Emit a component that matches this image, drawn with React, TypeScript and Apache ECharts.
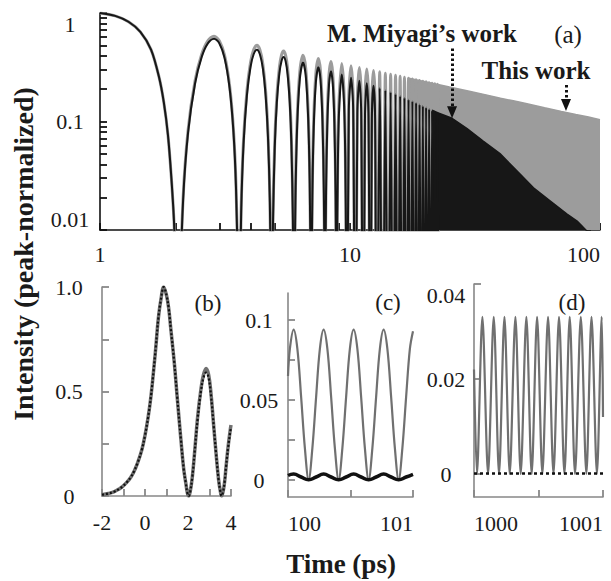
import React, { useEffect, useRef } from 'react';
import * as echarts from 'echarts';

const FONT = 'Liberation Serif, serif';

// ---------- Panel (a): log-log overview ----------
const A_X_RANGE = [1, 100];
const A_Y_RANGE = [0.01, 1];
const A_X_TICKS = [1, 2, 3, 4, 5, 6, 7, 8, 9, 10, 20, 30, 40, 50, 60, 70, 80, 90, 100];
const A_X_LABELS = [1, 10, 100];
const A_Y_TICKS = [0.01, 0.02, 0.03, 0.04, 0.05, 0.06, 0.07, 0.08, 0.09, 0.1, 0.2, 0.3, 0.4, 0.5, 0.6, 0.7, 0.8, 0.9, 1];
const A_Y_LABELS = [0.01, 0.1, 1];

// "This work" individual lobes [time ps, intensity]
const A_GRAY_LOBES: [number, number][] = [
  [1.0, 1.0], [1.15, 0.94], [1.3, 0.83], [1.45, 0.67], [1.6, 0.46], [1.72, 0.26], [1.8, 0.15], [1.87, 0.075], [1.93, 0.03], [1.98, 0.011], [2.03, 0.0015], [2.058, 0.0001],
  [2.09, 0.0024], [2.15, 0.0198], [2.25, 0.083], [2.4, 0.237], [2.55, 0.414], [2.7, 0.554], [2.858, 0.612], [3.0, 0.556], [3.15, 0.407], [3.3, 0.213], [3.42, 0.083], [3.5, 0.0256], [3.56, 0.0038], [3.597, 0.0001],
  [3.62, 0.0016], [3.67, 0.0158], [3.75, 0.0669], [3.87, 0.192], [4.0, 0.349], [4.12, 0.46], [4.242, 0.504], [4.36, 0.458], [4.48, 0.34], [4.6, 0.188], [4.7, 0.077], [4.78, 0.0197], [4.83, 0.0026], [4.858, 0.0001],
  [4.88, 0.0017], [4.92, 0.0131], [5.0, 0.0654], [5.1, 0.173], [5.22, 0.318], [5.32, 0.409], [5.424, 0.446], [5.53, 0.405], [5.63, 0.307], [5.74, 0.17], [5.83, 0.0695], [5.91, 0.014], [5.95, 0.0017], [5.972, 0.0001],
  [6.0, 0.003], [6.05, 0.0226], [6.15, 0.109], [6.3, 0.289], [6.487, 0.408], [6.65, 0.311], [6.8, 0.128], [6.9, 0.0319], [6.96, 0.0038], [6.991, 0.0001],
  [7.02, 0.0034], [7.07, 0.0249], [7.16, 0.1055], [7.3, 0.273], [7.47, 0.38], [7.62, 0.292], [7.76, 0.122], [7.86, 0.0265], [7.91, 0.0038], [7.94, 0.0001],
  [7.97, 0.0039], [8.02, 0.0271], [8.11, 0.111], [8.24, 0.267], [8.391, 0.358], [8.53, 0.278], [8.66, 0.121], [8.76, 0.0246], [8.81, 0.0028], [8.835, 0.0001],
  [8.87, 0.0056], [8.93, 0.0398], [9.03, 0.146], [9.264, 0.342], [9.45, 0.203], [9.57, 0.0605], [9.65, 0.0064], [9.687, 0.0001],
  [9.89, 0.164], [10.098, 0.327], [10.3, 0.164], [10.504, 0.0001],
  [10.7, 0.158], [10.898, 0.315], [11.09, 0.158], [11.289, 0.0001],
  [11.48, 0.152], [11.671, 0.304], [11.86, 0.152], [12.048, 0.0001],
  [12.233, 0.148], [12.418, 0.295], [12.6, 0.148], [12.784, 0.0001],
  [13.144, 0.287], [13.5, 0.0001], [13.85, 0.279], [14.197, 0.0001], [14.538, 0.273], [14.877, 0.0001],
  [15.211, 0.267], [15.541, 0.0001], [15.868, 0.261], [16.193, 0.0001], [16.513, 0.256], [16.831, 0.0001],
  [17.145, 0.251], [17.457, 0.0001], [17.766, 0.247], [18.073, 0.0001], [18.376, 0.243], [18.678, 0.0001],
  [18.976, 0.239], [19.273, 0.0001], [19.567, 0.235], [19.86, 0.0001], [20.149, 0.232], [20.437, 0.0001],
  [20.723, 0.228], [21.007, 0.0001], [21.289, 0.225], [21.569, 0.0001], [21.847, 0.2225], [22.124, 0.0001],
  [22.398, 0.22], [22.671, 0.0001],
];

// "M. Miyagi's work" individual lobes
const A_BLACK_LOBES: [number, number][] = [
  [1.0, 1.0], [1.15, 0.94], [1.3, 0.83], [1.45, 0.67], [1.6, 0.46], [1.72, 0.26], [1.8, 0.15], [1.87, 0.075], [1.93, 0.03], [1.98, 0.011], [2.03, 0.0015], [2.058, 0.0001],
  [2.09, 0.0023], [2.15, 0.0188], [2.25, 0.0786], [2.4, 0.224], [2.55, 0.392], [2.7, 0.525], [2.858, 0.58], [3.0, 0.527], [3.15, 0.385], [3.3, 0.202], [3.42, 0.0786], [3.5, 0.0242], [3.56, 0.0036], [3.597, 0.0001],
  [3.62, 0.0015], [3.67, 0.0144], [3.75, 0.061], [3.87, 0.175], [4.0, 0.318], [4.12, 0.419], [4.242, 0.459], [4.36, 0.417], [4.48, 0.31], [4.6, 0.171], [4.7, 0.07], [4.78, 0.018], [4.83, 0.0024], [4.858, 0.0001],
  [4.88, 0.0015], [4.92, 0.0115], [5.0, 0.0576], [5.1, 0.152], [5.22, 0.28], [5.32, 0.36], [5.424, 0.393], [5.53, 0.357], [5.63, 0.27], [5.74, 0.15], [5.83, 0.0612], [5.91, 0.0123], [5.95, 0.0015], [5.972, 0.0001],
  [6.0, 0.0026], [6.05, 0.0193], [6.15, 0.0932], [6.3, 0.247], [6.487, 0.349], [6.65, 0.266], [6.8, 0.109], [6.9, 0.0273], [6.96, 0.0032], [6.991, 0.0001],
  [7.02, 0.0028], [7.07, 0.0207], [7.16, 0.0878], [7.3, 0.227], [7.47, 0.316], [7.62, 0.243], [7.76, 0.1015], [7.86, 0.022], [7.91, 0.0032], [7.94, 0.0001],
  [7.97, 0.0032], [8.02, 0.022], [8.11, 0.09], [8.24, 0.2165], [8.391, 0.29], [8.53, 0.2255], [8.66, 0.098], [8.76, 0.02], [8.81, 0.0023], [8.835, 0.0001],
  [8.87, 0.0044], [8.93, 0.0315], [9.03, 0.1155], [9.264, 0.271], [9.45, 0.1606], [9.57, 0.0479], [9.65, 0.0051], [9.687, 0.0001],
  [9.89, 0.1264], [10.098, 0.253], [10.3, 0.1264], [10.504, 0.0001],
  [10.7, 0.119], [10.898, 0.238], [11.09, 0.119], [11.289, 0.0001],
  [11.48, 0.1125], [11.671, 0.225], [11.86, 0.1125], [12.048, 0.0001],
  [12.233, 0.107], [12.418, 0.2136], [12.6, 0.107], [12.784, 0.0001],
  [13.144, 0.2037], [13.5, 0.0001], [13.85, 0.194], [14.197, 0.0001], [14.538, 0.1865], [14.877, 0.0001],
  [15.211, 0.179], [15.541, 0.0001], [15.868, 0.1717], [16.193, 0.0001], [16.513, 0.1654], [16.831, 0.0001],
  [17.145, 0.1593], [17.457, 0.0001], [17.766, 0.154], [18.073, 0.0001], [18.376, 0.149], [18.678, 0.0001],
  [18.976, 0.144], [19.273, 0.0001], [19.567, 0.1394], [19.86, 0.0001], [20.149, 0.1353], [20.437, 0.0001],
  [20.723, 0.1309], [21.007, 0.0001], [21.289, 0.127], [21.569, 0.0001], [21.847, 0.1237], [22.124, 0.0001],
  [22.398, 0.1204], [22.671, 0.0001],
];

// dense (unresolved) oscillation envelopes
const A_GRAY_DENSE: [number, number][] = [
  [17, 0.252], [20, 0.232], [22, 0.222], [25, 0.208], [30, 0.19], [35, 0.176], [40, 0.164], [45, 0.155],
  [50, 0.147], [60, 0.134], [70, 0.124], [80, 0.116], [90, 0.11], [100, 0.104],
];
const A_BLACK_DENSE: [number, number][] = [
  [21.3, 0.127], [22.4, 0.1204], [25.6, 0.107], [29.4, 0.086], [34.1, 0.066], [39.8, 0.0506], [46.5, 0.0352],
  [54.2, 0.0245], [63.1, 0.0186], [73.6, 0.0141], [81, 0.0121], [88.6, 0.0098], [92, 0.0085],
];
const A_ARROW_MIYAGI: [number, number][] = [[25.6, 0.47], [25.6, 0.122]];
const A_ARROW_THIS: [number, number][] = [[73.1, 0.217], [73.1, 0.142]];

// ---------- Panel (b) ----------
const B_X_RANGE = [-2, 4];
const B_Y_RANGE = [0, 1];
const B_X_TICKS = [-2, -1, 0, 1, 2, 3, 4];
const B_X_LABELS = [-2, 0, 2, 4];
const B_Y_TICKS = [0, 0.25, 0.5, 0.75, 1];
const B_Y_LABELS = [0, 0.5, 1];
const B_TIME = [-2, -1.7, -1.45, -1.2, -1.05, -0.85, -0.66, -0.5, -0.34, -0.15, 0, 0.15, 0.28, 0.4, 0.51, 0.62, 0.74, 0.87, 1.0, 1.1, 1.2, 1.36, 1.5, 1.67, 1.8, 1.9, 1.97, 2.03, 2.1, 2.2, 2.3, 2.45, 2.6, 2.72, 2.84, 2.96, 3.07, 3.2, 3.3, 3.42, 3.5, 3.56, 3.63, 3.7, 3.77, 3.87, 3.97, 4.0];
const B_GRAY = [0.006, 0.012, 0.02, 0.034, 0.045, 0.065, 0.09, 0.12, 0.16, 0.22, 0.29, 0.38, 0.48, 0.6, 0.72, 0.85, 0.94, 1.0, 0.96, 0.9, 0.8, 0.64, 0.47, 0.27, 0.13, 0.06, 0.015, 0.0, 0.02, 0.09, 0.2, 0.38, 0.51, 0.58, 0.61, 0.58, 0.49, 0.33, 0.21, 0.08, 0.025, 0.0, 0.02, 0.065, 0.14, 0.24, 0.32, 0.34];
const B_BLACK = [0.006, 0.012, 0.02, 0.034, 0.045, 0.065, 0.09, 0.12, 0.16, 0.22, 0.29, 0.38, 0.48, 0.6, 0.72, 0.85, 0.94, 1.0, 0.96, 0.9, 0.8, 0.64, 0.47, 0.27, 0.13, 0.06, 0.015, 0.0, 0.02, 0.09, 0.2, 0.37, 0.5, 0.565, 0.59, 0.565, 0.48, 0.33, 0.21, 0.08, 0.025, 0.0, 0.02, 0.065, 0.14, 0.235, 0.31, 0.33];

// ---------- Panel (c) ----------
const C_X_RANGE = [100, 101];
const C_Y_RANGE = [-0.0106, 0.1169];
const C_X_TICKS = [100, 100.5, 101];
const C_X_LABELS = [100, 101];
const C_Y_TICKS = [0, 0.025, 0.05, 0.075, 0.1];
const C_Y_LABELS = [0, 0.05, 0.1];
const C_GRAY: [number, number][] = [
  [100.0, 0.065], [100.015, 0.082], [100.045, 0.094], [100.075, 0.082], [100.105, 0.052], [100.135, 0.02], [100.165, 0],
  [100.195, 0.02], [100.225, 0.052], [100.255, 0.082], [100.285, 0.094], [100.315, 0.082], [100.345, 0.052], [100.375, 0.02], [100.405, 0],
  [100.435, 0.02], [100.465, 0.052], [100.495, 0.082], [100.525, 0.094], [100.555, 0.082], [100.585, 0.052], [100.615, 0.02], [100.645, 0],
  [100.675, 0.02], [100.705, 0.052], [100.735, 0.082], [100.765, 0.094], [100.795, 0.082], [100.825, 0.052], [100.855, 0.02], [100.885, 0],
  [100.915, 0.02], [100.945, 0.052], [100.975, 0.082], [101.0, 0.093],
];
const C_BLACK: [number, number][] = [
  [100.0, 0.0028], [100.045, 0.0037], [100.105, 0.0019], [100.165, 0.0002], [100.225, 0.0019], [100.285, 0.0037],
  [100.345, 0.0019], [100.405, 0.0002], [100.465, 0.0019], [100.525, 0.0037], [100.585, 0.0019], [100.645, 0.0002],
  [100.705, 0.0019], [100.765, 0.0037], [100.825, 0.0019], [100.885, 0.0002], [100.945, 0.0019], [101.0, 0.0036],
];

// ---------- Panel (d) ----------
const D_X_RANGE = [1000, 1001];
const D_Y_RANGE = [-0.00484, 0.04];
const D_X_TICKS = [1000, 1000.5, 1001];
const D_X_LABELS = [1000, 1001];
const D_Y_TICKS = [0, 0.02, 0.04];
const D_Y_LABELS = [0, 0.02, 0.04];
const D_GRAY: [number, number][] = [
  [1000.0, 0.022], [1000.023, 0], [1000.065, 0.0331], [1000.109, 0], [1000.153, 0.0331], [1000.194, 0], [1000.236, 0.0331],
  [1000.277, 0], [1000.321, 0.0331], [1000.362, 0], [1000.406, 0.0331], [1000.447, 0], [1000.489, 0.0331], [1000.53, 0],
  [1000.574, 0.0331], [1000.616, 0], [1000.659, 0.0331], [1000.701, 0], [1000.742, 0.0331], [1000.783, 0], [1000.828, 0.0331],
  [1000.871, 0], [1000.911, 0.0331], [1000.953, 0], [1000.99, 0.0331], [1001.0, 0.012],
];
const D_BLACK: [number, number][] = [
  [1000.0, 0.0001], [1000.1, 0.0001], [1000.2, 0.0001], [1000.3, 0.0001], [1000.4, 0.0001], [1000.5, 0.0001],
  [1000.6, 0.0001], [1000.7, 0.0001], [1000.8, 0.0001], [1000.9, 0.0001], [1001.0, 0.0001],
];

const GRAY_A = '#9c9c9c';
const BLACK_A = '#171717';
const GRAY_L = '#707070';
const AXIS_G = '#888888';
const TXT = '#1a1a1a';

const fmt = (v: number) => String(parseFloat(Number(v).toPrecision(6)));

function xAxisCfg(gridIndex: number, type: string, range: number[], ticks: number[], labels: number[], color: string, extra: any = {}) {
  return {
    type, gridIndex, min: range[0], max: range[1],
    axisLine: { show: true, onZero: false, lineStyle: { color, width: 1.6 } },
    axisTick: { show: true, inside: true, length: 7, customValues: ticks, lineStyle: { color, width: 1.8 } },
    minorTick: { show: false },
    splitLine: { show: false },
    axisLabel: {
      show: true, customValues: labels, margin: 15, color: TXT,
      fontFamily: FONT, fontSize: 22, formatter: (v: number) => fmt(v), ...extra,
    },
  };
}
function yAxisCfg(gridIndex: number, type: string, range: number[], ticks: number[], labels: number[], color: string, margin: number, formatter?: (v: number) => string, extra: any = {}) {
  return {
    type, gridIndex, min: range[0], max: range[1],
    axisLine: { show: true, onZero: false, lineStyle: { color, width: 1.6 } },
    axisTick: { show: true, inside: true, length: 7, customValues: ticks, lineStyle: { color, width: 1.8 } },
    minorTick: { show: false },
    splitLine: { show: false },
    axisLabel: {
      show: true, customValues: labels, margin, align: 'center', color: TXT,
      fontFamily: FONT, fontSize: 22, formatter: formatter || ((v: number) => fmt(v)), ...extra,
    },
  };
}

const txt = (text: string, x: number, y: number, size: number, bold: boolean, rotation = 0) => ({
  type: 'text', x, y, rotation, silent: true, z: 100,
  style: { text, font: `${bold ? 'bold ' : ''}${size}px ${FONT}`, fill: TXT, align: 'center', verticalAlign: 'middle' },
});

export default function App() {
  const ref = useRef<HTMLDivElement>(null);
  useEffect(() => {
    const chart = echarts.init(ref.current!, null, { renderer: 'svg' });
    const option: any = {
      animation: false,
      backgroundColor: '#ffffff',
      grid: [
        { left: 100, top: 13, width: 500, height: 217 },
        { left: 102, top: 287, width: 129, height: 209 },
        { left: 288, top: 293, width: 125, height: 204 },
        { left: 474, top: 284, width: 129, height: 213 },
      ],
      xAxis: [
        xAxisCfg(0, 'log', A_X_RANGE, A_X_TICKS, A_X_LABELS, '#111', { margin: 13, alignMaxLabel: 'right' }),
        xAxisCfg(1, 'value', B_X_RANGE, B_X_TICKS, B_X_LABELS, AXIS_G),
        xAxisCfg(2, 'value', C_X_RANGE, C_X_TICKS, C_X_LABELS, AXIS_G, { alignMinLabel: 'left', alignMaxLabel: 'right' }),
        xAxisCfg(3, 'value', D_X_RANGE, D_X_TICKS, D_X_LABELS, AXIS_G, { alignMinLabel: 'left', alignMaxLabel: 'right' }),
      ],
      yAxis: [
        yAxisCfg(0, 'log', A_Y_RANGE, A_Y_TICKS, A_Y_LABELS, '#111', 30, undefined, { verticalAlignMaxLabel: 'top', verticalAlignMinLabel: 'bottom' }),
        yAxisCfg(1, 'value', B_Y_RANGE, B_Y_TICKS, B_Y_LABELS, AXIS_G, 33, (v: number) => (v === 1 ? '1.0' : fmt(v))),
        yAxisCfg(2, 'value', C_Y_RANGE, C_Y_TICKS, C_Y_LABELS, AXIS_G, 29),
        yAxisCfg(3, 'value', D_Y_RANGE, D_Y_TICKS, D_Y_LABELS, AXIS_G, 28, undefined, { verticalAlignMaxLabel: 'top' }),
      ],
      series: [
        {
          name: 'This work (dense)', type: 'line', xAxisIndex: 0, yAxisIndex: 0, data: A_GRAY_DENSE,
          symbol: 'none', lineStyle: { color: GRAY_A, width: 1.5 },
          areaStyle: { color: GRAY_A, opacity: 1, origin: 'start' }, z: 2,
        },
        {
          name: 'This work', type: 'line', xAxisIndex: 0, yAxisIndex: 0, data: A_GRAY_LOBES,
          symbol: 'none', smooth: 0.3, lineStyle: { color: GRAY_A, width: 3 }, z: 3,
        },
        {
          name: "M. Miyagi's work (dense)", type: 'line', xAxisIndex: 0, yAxisIndex: 0, data: A_BLACK_DENSE,
          symbol: 'none', lineStyle: { color: BLACK_A, width: 1.5 },
          areaStyle: { color: BLACK_A, opacity: 1, origin: 'start' }, z: 4,
        },
        {
          name: "M. Miyagi's work", type: 'line', xAxisIndex: 0, yAxisIndex: 0, data: A_BLACK_LOBES,
          symbol: 'none', smooth: 0.3, lineStyle: { color: BLACK_A, width: 2 }, z: 5,
          markLine: {
            silent: true, symbol: ['none', 'triangle'], symbolSize: [10, 12], label: { show: false },
            lineStyle: { type: [2.5, 2.5], width: 3, color: '#111' },
            data: [
              [{ coord: A_ARROW_MIYAGI[0] }, { coord: A_ARROW_MIYAGI[1] }],
              [{ coord: A_ARROW_THIS[0] }, { coord: A_ARROW_THIS[1] }],
            ],
          },
        },
        {
          name: 'b gray', type: 'line', xAxisIndex: 1, yAxisIndex: 1, data: B_TIME.map((t, i) => [t, B_GRAY[i]]),
          symbol: 'none', smooth: 0.4, lineStyle: { color: GRAY_L, width: 3.5 }, z: 3,
        },
        {
          name: 'b black', type: 'line', xAxisIndex: 1, yAxisIndex: 1, data: B_TIME.map((t, i) => [t, B_BLACK[i]]),
          symbol: 'none', smooth: 0.4, lineStyle: { color: '#111', width: 2.2, type: [2, 2] }, z: 4,
        },
        {
          name: 'c gray', type: 'line', xAxisIndex: 2, yAxisIndex: 2, data: C_GRAY,
          symbol: 'none', smooth: 0.35, lineStyle: { color: GRAY_L, width: 2.2 }, z: 3,
        },
        {
          name: 'c black', type: 'line', xAxisIndex: 2, yAxisIndex: 2, data: C_BLACK,
          symbol: 'none', smooth: 0.5, lineStyle: { color: '#111', width: 3.5 }, z: 4,
        },
        {
          name: 'd gray', type: 'line', xAxisIndex: 3, yAxisIndex: 3, data: D_GRAY,
          symbol: 'none', smooth: 0.3, lineStyle: { color: GRAY_L, width: 2.2 }, z: 3,
        },
        {
          name: 'd black', type: 'line', xAxisIndex: 3, yAxisIndex: 3, data: D_BLACK,
          symbol: 'none', lineStyle: { color: '#111', width: 2.5, type: [3, 3] }, z: 4,
        },
      ],
      graphic: [
        txt("M. Miyagi\u2019s work", 422, 33, 25, true),
        txt('(a)', 568, 34, 25, false),
        txt('This work', 536, 70, 25, true),
        txt('(b)', 208, 303, 23, false),
        txt('(c)', 388, 302, 23, false),
        txt('(d)', 572, 302, 23, false),
        txt('Intensity (peak-normalized)', 23, 254, 28, true, Math.PI / 2),
        txt('Time (ps)', 341, 564, 27, true),
      ],
    };
    chart.setOption(option);
    return () => chart.dispose();
  }, []);
  return (
    <div
      ref={ref}
      style={{ position: 'fixed', left: 0, top: 0, width: 611, height: 581, background: '#fff' }}
    />
  );
}
